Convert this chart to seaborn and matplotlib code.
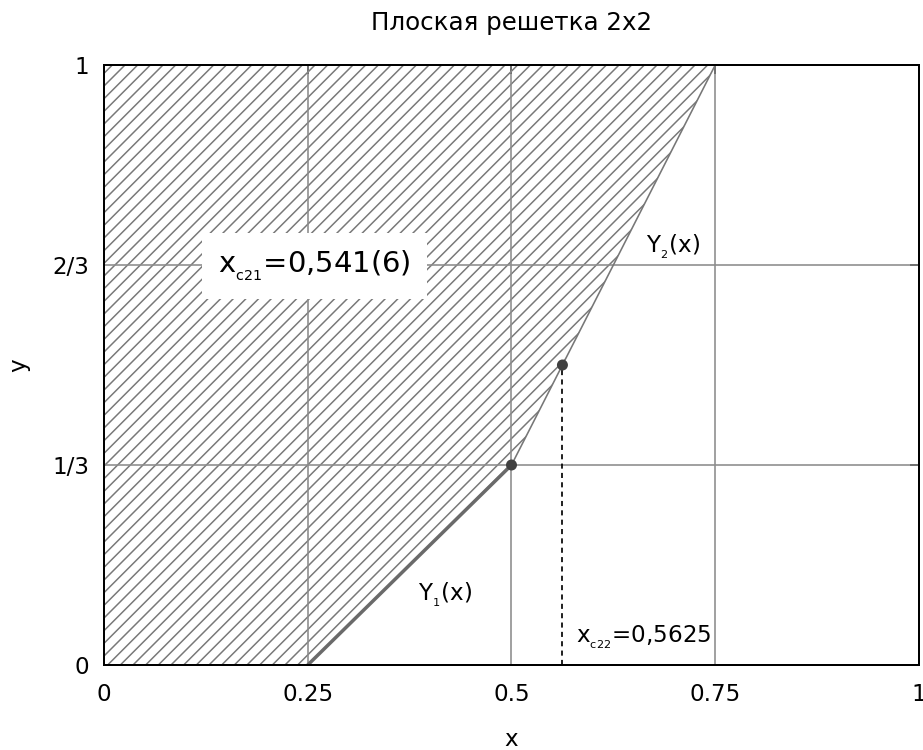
import matplotlib
matplotlib.use("Agg")
import matplotlib.pyplot as plt
import numpy as np
import pandas as pd
import seaborn as sns

# boundary of the hatched region (x as a function of y)
bound_y = [0.0, 1/3, 1.0]
bound_x = [0.25, 0.5, 0.75]

# Y1 and Y2 segments
y1_x = [0.25, 0.5]
y1_y = [0.0, 1/3]
y2_x = [0.5, 0.75]
y2_y = [1/3, 1.0]

# marked points
pts_x = [0.5, 0.5625]
pts_y = [1/3, 0.5]

xc22 = 0.5625
xc22_y = 0.5

xticks = [0, 0.25, 0.5, 0.75, 1]
xtick_labels = ['0', '0.25', '0.5', '0.75', '1']
yticks = [0, 1/3, 2/3, 1]
ytick_labels = ['0', '1/3', '2/3', '1']

DPI = 76


def px(v):
    # pixels -> points at this dpi
    return v * 72.0 / DPI


sns.set_style("white")
plt.rcParams['font.family'] = ['DejaVu Sans']
plt.rcParams['text.color'] = 'black'
plt.rcParams['axes.labelcolor'] = 'black'
plt.rcParams['xtick.color'] = 'black'
plt.rcParams['ytick.color'] = 'black'
plt.rcParams['hatch.linewidth'] = px(1.5)
plt.rcParams['hatch.color'] = '#787878'

fig = plt.figure(figsize=(924 / DPI, 750 / DPI), dpi=DPI)
ax = fig.add_axes([104 / 924, 85 / 750, 815 / 924, 600 / 750])

# hatched region
ax.fill_betweenx(bound_y, 0, bound_x, facecolor='none', edgecolor='#787878',
                 hatch='//', linewidth=0, zorder=1)

# grid
for xv in xticks[1:-1]:
    ax.axvline(xv, color='#8c8c8c', lw=px(1.6), zorder=2)
for yv in yticks[1:-1]:
    ax.axhline(yv, color='#8c8c8c', lw=px(1.6), zorder=2)

df1 = pd.DataFrame({'x': y1_x, 'y': y1_y})
df2 = pd.DataFrame({'x': y2_x, 'y': y2_y})
sns.lineplot(data=df1, x='x', y='y', ax=ax, color='#6a6a6a', lw=px(3.5), zorder=3)
sns.lineplot(data=df2, x='x', y='y', ax=ax, color='#777777', lw=px(1.6), zorder=3)

ax.plot([xc22, xc22], [0, xc22_y], color='black', lw=px(1.7),
        dashes=(3, 2.5), zorder=3)

sns.scatterplot(x=pts_x, y=pts_y, ax=ax, color='#404040', s=px(11) ** 2,
                edgecolor='none', zorder=4)

# labels
ax.text(0.258, 0.665, r'$\mathregular{x_{_{c21}}}$=0,541(6)', fontsize=px(29),
        ha='center', va='center', zorder=5,
        bbox=dict(facecolor='white', edgecolor='none', pad=px(16)))
ax.text(0.698, 0.697, r'$\mathregular{Y_{_2}}$(x)', fontsize=px(23),
        ha='center', va='center', zorder=5)
ax.text(0.419, 0.118, r'$\mathregular{Y_{_1}}$(x)', fontsize=px(23),
        ha='center', va='center', zorder=5)
ax.text(0.579, 0.047, r'$\mathregular{x_{_{c22}}}$=0,5625', fontsize=px(23),
        ha='left', va='center', zorder=5)

ax.set_xlim(0, 1)
ax.set_ylim(0, 1)
ax.set_xticks(xticks)
ax.set_xticklabels(xtick_labels)
ax.set_yticks(yticks)
ax.set_yticklabels(ytick_labels)
ax.tick_params(direction='in', length=px(9), width=px(2), color='black',
               top=True, right=True, labelsize=px(23))
ax.tick_params(axis='x', pad=px(18))
ax.tick_params(axis='y', pad=px(15))
for sp in ax.spines.values():
    sp.set_color('black')
    sp.set_linewidth(px(2))
    sp.set_zorder(6)

ax.set_xlabel('x', fontsize=px(23), labelpad=px(22))
ax.set_ylabel('y', fontsize=px(23), labelpad=px(22))
ax.set_title('Плоская решетка 2x2', fontsize=px(24.5), pad=px(35))

fig.savefig('out.png', dpi=DPI)
